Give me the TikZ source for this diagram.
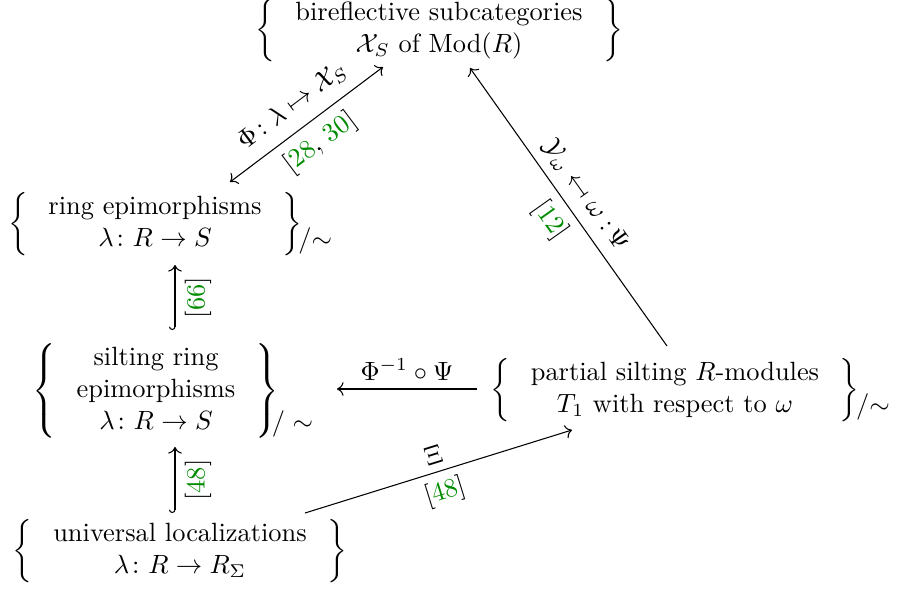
\documentclass[tikz,border=0pt]{standalone}
\usepackage{amsmath,amssymb}
\usepackage{graphicx}
\usetikzlibrary{arrows.meta}
\definecolor{citegreen}{rgb}{0,0.55,0}
\newcommand{\cgr}[1]{\textcolor{citegreen}{#1}}
\newcommand{\mapsfromX}{\mathrel{\reflectbox{$\mapsto$}}}
\begin{document}
\begin{tikzpicture}[x=0.3788pt,y=-0.3788pt,
  setnode/.style={inner sep=0pt, outer sep=0pt},
  quot/.style={inner sep=0pt, anchor=base west},
  arr/.style={-{Computer Modern Rightarrow}, line width=0.4pt},
  rarr/.style={{Computer Modern Rightarrow}-, line width=0.4pt},
  darr/.style={{Computer Modern Rightarrow}-{Computer Modern Rightarrow}, line width=0.4pt},
  hookarr/.style={{Hooks[right]}-{Computer Modern Rightarrow}, line width=0.4pt},
  lab/.style={midway, sloped, inner sep=3.5pt}]
\useasboundingbox (0,0) rectangle (900,593);

\node[setnode] (T) at (439,30)
  {$\left\{\;\begin{array}{c}\text{bireflective subcategories}\\ \mathcal{X}_S\text{ of }\mathrm{Mod}(R)\end{array}\;\right\}$};
\node[setnode] (E) at (155,224)
  {$\left\{\;\begin{array}{c}\text{ring epimorphisms}\\ \lambda\colon R\to S\end{array}\;\right\}$};
\node[quot] (Eq) at ([xshift=-1.5pt,yshift=3pt]E.south east) {$/{\sim}$};
\node[setnode] (S) at (156,391)
  {$\left\{\;\begin{array}{c}\text{silting ring}\\ \text{epimorphisms}\\ \lambda\colon R\to S\end{array}\;\right\}$};
\node[quot] (Sq) at ([xshift=-3pt,yshift=3pt]S.south east) {$/\sim$};
\node[setnode] (P) at (675,390)
  {$\left\{\;\begin{array}{c}\text{partial silting $R$-modules}\\ \text{$T_1$ with respect to $\omega$}\end{array}\;\right\}$};
\node[quot] (Pq) at ([xshift=-1.5pt,yshift=3pt]P.south east) {$/{\sim}$};
\node[setnode] (U) at (180,551)
  {$\left\{\;\begin{array}{c}\text{universal localizations}\\ \lambda\colon R\to R_\Sigma\end{array}\;\right\}$};

% Phi
\draw[darr] ([shift={(75,-42)}]E.center) -- ([shift={(-56,37)}]T.center)
  node[lab, above, inner sep=4.5pt] (phiL) {$\Phi\colon\lambda\mapsto\mathcal{X}_S$}
  node[lab, below] (phiR) {$[\text{\cgr{28}, \cgr{30}}]$};
% Psi
\draw[rarr] ([shift={(31,38)}]T.center) -- ([shift={(-8,-44)}]P.center)
  node[lab, above] (psiL) {$\mathcal{Y}_\omega\mapsfromX\omega\;{:}\,\Psi$}
  node[lab, below] (psiR) {$[\cgr{12}]$};
% Phi^{-1} Psi
\draw[arr] ([shift={(-198,-1)}]P.center) -- ([shift={(181,-2)}]S.center)
  node[midway, above, inner sep=3pt] (cmpL) {$\Phi^{-1}\circ\Psi$};
% Xi
\draw[arr] ([shift={(125,-38)}]U.center) -- ([shift={(-103,40)}]P.center)
  node[lab, above, inner sep=3pt] (xiL) {$\Xi$}
  node[lab, below, inner sep=3pt] (xiR) {$[\cgr{48}]$};
% hooks
\draw[hookarr] ([shift={(19,-61)}]S.center) -- ([shift={(20,41)}]E.center)
  node[lab, below] (h1) {$[\cgr{66}]$};
\draw[hookarr] ([shift={(-5,-38)}]U.center) -- ([shift={(19,56)}]S.center)
  node[lab, below] (h2) {$[\cgr{48}]$};
\end{tikzpicture}
\end{document}
